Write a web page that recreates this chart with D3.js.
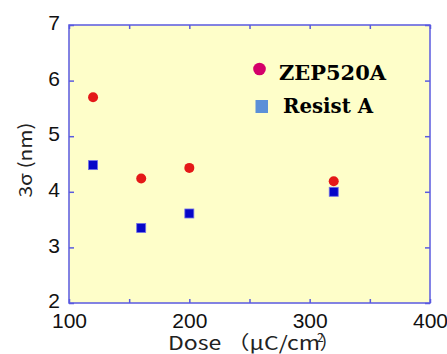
<!DOCTYPE html>
<html><head><meta charset="utf-8">
<script src="https://cdn.jsdelivr.net/npm/d3@7"></script>
<style>body{margin:0;background:#fff}</style>
</head><body>
<script>
const doses = [120, 160, 200, 320];
const zep520A = [5.70, 4.24, 4.43, 4.19];
const resistA = [4.48, 3.35, 3.61, 4.00];
const xTickValues = [100, 150, 200, 250, 300, 350, 400];
const xTickLabels = [100, 200, 300, 400];
const yTickValues = [2, 3, 4, 5, 6, 7];
const seriesNames = ["ZEP520A", "Resist A"];

const W = 447, H = 354;
const L = 69, R = 430, T = 25, B = 303;
const svg = d3.select("body").append("svg").attr("width", W).attr("height", H);
const x = d3.scaleLinear().domain([100, 400]).range([L, R]);
const y = d3.scaleLinear().domain([2, 7]).range([B, T]);
const axisCol = "#5a5ae0";

svg.append("rect").attr("x", L).attr("y", T).attr("width", R - L).attr("height", B - T)
  .attr("fill", "#fefec9");

function style(g) {
  g.select(".domain").remove();
  g.selectAll(".tick line").attr("stroke", axisCol).attr("stroke-width", 1.5);
  g.selectAll("text").attr("fill", "#111").attr("font-family", "Liberation Sans, Arial, sans-serif").attr("font-size", 21);
}
const fmtX = d => xTickLabels.includes(d) ? d : "";
svg.append("g").attr("transform", `translate(0,${B})`)
  .call(d3.axisBottom(x).tickValues(xTickValues).tickFormat(fmtX).tickSize(-4).tickPadding(10)).call(style);
svg.append("g").attr("transform", `translate(0,${T})`)
  .call(d3.axisTop(x).tickValues(xTickValues).tickFormat("").tickSize(-4)).call(style);
const gl = svg.append("g").attr("transform", `translate(${L},0)`)
  .call(d3.axisLeft(y).tickValues(yTickValues).tickFormat(d3.format("d")).tickSize(-5).tickPadding(9)).call(style);
gl.selectAll("text").attr("dy", "0.22em");
svg.append("g").attr("transform", `translate(${R},0)`)
  .call(d3.axisRight(y).tickValues(yTickValues).tickFormat("").tickSize(-5)).call(style);

svg.append("rect").attr("x", L).attr("y", T).attr("width", R - L).attr("height", B - T)
  .attr("fill", "none").attr("stroke", axisCol).attr("stroke-width", 1.5);

// data
svg.append("g").selectAll("circle").data(doses).join("circle")
  .attr("cx", d => x(d)).attr("cy", (d, i) => y(zep520A[i])).attr("r", 5)
  .attr("fill", "#e41818");
svg.append("g").selectAll("rect").data(doses).join("rect")
  .attr("x", d => x(d) - 4.5).attr("y", (d, i) => y(resistA[i]) - 4.5)
  .attr("width", 9).attr("height", 9)
  .attr("fill", "#0606c8").attr("stroke", "#7070e8").attr("stroke-width", 0.8);

// legend
svg.append("circle").attr("cx", 259.5).attr("cy", 69).attr("r", 6.3).attr("fill", "#d4006a");
svg.append("rect").attr("x", 255.5).attr("y", 100).attr("width", 12.5).attr("height", 13).attr("fill", "#5b90d8");
const lf = "'DejaVu Serif', 'Liberation Serif', serif";
svg.append("text").attr("x", 279).attr("y", 80).text(seriesNames[0])
  .attr("font-family", lf).attr("font-weight", "bold").attr("font-size", 20)
  .attr("textLength", 107).attr("lengthAdjust", "spacingAndGlyphs").attr("fill", "#000");
svg.append("text").attr("x", 283).attr("y", 113).text(seriesNames[1])
  .attr("font-family", lf).attr("font-weight", "bold").attr("font-size", 20)
  .attr("textLength", 90).attr("lengthAdjust", "spacingAndGlyphs").attr("fill", "#000");

// axis titles
const tf = "'Noto Sans CJK JP', 'Liberation Sans', sans-serif";
const xt = svg.append("text").attr("x", 168).attr("y", 350)
  .attr("font-family", tf).attr("font-size", 19).attr("fill", "#222");
xt.append("tspan").text("Dose （μC/cm").attr("textLength", 152).attr("lengthAdjust", "spacingAndGlyphs");
xt.append("tspan").text("2").attr("font-size", 12).attr("dx", -3).attr("dy", -8);
xt.append("tspan").text("）").attr("dx", -4).attr("dy", 8);

svg.append("text").attr("transform", "translate(32,160) rotate(-90)")
  .attr("text-anchor", "middle").attr("font-family", tf).attr("font-size", 18).attr("fill", "#222")
  .attr("textLength", 75).attr("lengthAdjust", "spacingAndGlyphs")
  .text("3σ (nm)");
</script>
</body></html>
